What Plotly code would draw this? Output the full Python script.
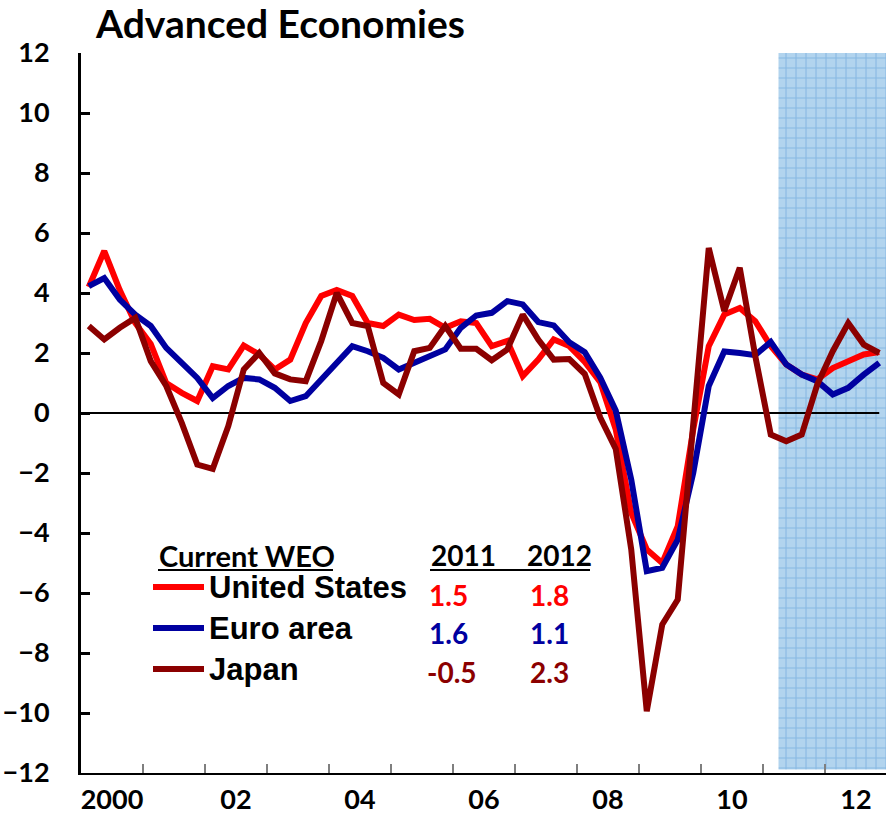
import plotly.graph_objects as go

# ---------------- data (quarterly, 2000Q1 .. 2012Q4, % annualized) ----------------
quarters = [f"{y}Q{q}" for y in range(2000, 2013) for q in range(1, 5)]

united_states = [4.2, 5.4, 4.1, 3.0, 2.3, 1.0, 0.67, 0.4,
                 1.56, 1.45, 2.25, 1.95, 1.45, 1.78, 3.0, 3.9,
                 4.1, 3.9, 3.0, 2.9, 3.28, 3.1, 3.14, 2.84,
                 3.06, 3.0, 2.23, 2.4, 1.23, 1.78, 2.45, 2.23,
                 1.7, 1.03, -0.55, -3.33, -4.55, -5.0, -3.77, -0.55,
                 2.23, 3.28, 3.5, 3.06, 2.23, 1.62, 1.28, 1.12,
                 1.5, 1.73, 1.95, 2.03]

euro_area = [4.23, 4.5, 3.78, 3.28, 2.9, 2.17, 1.67, 1.17,
             0.5, 0.9, 1.17, 1.12, 0.84, 0.4, 0.56, 1.12,
             1.67, 2.23, 2.06, 1.84, 1.45, 1.67, 1.9, 2.12,
             2.84, 3.25, 3.34, 3.73, 3.62, 3.03, 2.92, 2.36,
             2.03, 1.18, 0.08, -2.22, -5.27, -5.16, -4.22, -2.0,
             0.9, 2.05, 2.0, 1.93, 2.37, 1.62, 1.28, 1.06,
             0.62, 0.84, 1.28, 1.67]

japan = [2.9, 2.45, 2.84, 3.17, 1.73, 0.9, -0.33, -1.72,
         -1.86, -0.44, 1.45, 2.0, 1.32, 1.12, 1.06, 2.4,
         4.0, 3.0, 2.9, 1.0, 0.62, 2.06, 2.17, 2.9,
         2.14, 2.14, 1.76, 2.12, 3.28, 2.45, 1.78, 1.8,
         1.3, -0.15, -1.2, -4.55, -9.94, -7.05, -6.22, -0.2,
         5.5, 3.4, 4.84, 1.9, -0.72, -0.94, -0.72, 0.95,
         2.06, 3.0, 2.28, 2.0]

projection_start = "2011Q2"

year_tick_labels = ["2000", "02", "04", "06", "08", "10", "12"]
year_tick_years = [2000, 2002, 2004, 2006, 2008, 2010, 2012]
y_ticks = [-12, -10, -8, -6, -4, -2, 0, 2, 4, 6, 8, 10, 12]

legend_names = ["United States", "Euro area", "Japan"]
weo_2011 = ["1.5", "1.6", "-0.5"]
weo_2012 = ["1.8", "1.1", "2.3"]

# ---------------- style ----------------
RED = "#FF0000"
BLUE = "#0000A0"
MAROON = "#8B0000"
colors = [RED, BLUE, MAROON]

W, H = 886, 814
L, R, T, B = 81, 0, 53, 41
pw, ph = W - L - R, H - T - B
q_px = 15.5
x_lo = -0.5
x_hi = x_lo + pw / q_px

def px(x):
    return (x - L) / pw

def py(y):
    return (H - B - y) / ph

CAL = "Lato"
ARI = "Liberation Sans"

xi = list(range(len(quarters)))
first_year = int(quarters[0][:4])
label_pos = [(yr - first_year) * 4 + 1.5 for yr in year_tick_years]
boundaries = [k * 4 - 0.5 for k in range(1, len(quarters) // 4)]
proj_x = quarters.index(projection_start) - 0.5

fig = go.Figure()

# projection shading
fig.add_trace(go.Scatter(
    x=[proj_x, x_hi, x_hi, proj_x, proj_x],
    y=[-11.88, -11.88, 12.1, 12.1, -11.88],
    mode="lines", fill="toself", line=dict(width=0),
    fillcolor="#B2D4EE",
    fillpattern=dict(shape="+", bgcolor="#B2D4EE", fgcolor="#5B9BD5",
                     size=10, solidity=0.2),
    hoverinfo="skip", showlegend=False))

# zero line
fig.add_trace(go.Scatter(x=[x_lo, xi[-1]], y=[0, 0], mode="lines",
                         line=dict(color="black", width=2),
                         hoverinfo="skip", showlegend=False))

for name, vals, col in zip(legend_names, [united_states, euro_area, japan], colors):
    fig.add_trace(go.Scatter(x=xi, y=vals, mode="lines", name=name,
                             line=dict(color=col, width=6),
                             showlegend=False))

annotations = []
shapes = []

# title
annotations.append(dict(text="<b>Advanced Economies</b>", xref="paper", yref="paper",
                         x=px(93), y=py(23), xanchor="left", yanchor="middle",
                         showarrow=False, font=dict(family=CAL, size=39, color="black")))

# legend header
annotations.append(dict(text="<b>Current WEO</b>", xref="paper", yref="paper",
                         x=px(157), y=py(555), xanchor="left", yanchor="middle",
                         showarrow=False, font=dict(family=CAL, size=29, color="black")))
yr_font = dict(family=CAL, size=28, color="black")
annotations.append(dict(text="<b>2011</b>", xref="paper", yref="paper",
                         x=px(429), y=py(555), xanchor="left", yanchor="middle",
                         showarrow=False, font=yr_font))
annotations.append(dict(text="<b>2012</b>", xref="paper", yref="paper",
                         x=px(525), y=py(555), xanchor="left", yanchor="middle",
                         showarrow=False, font=yr_font))
for x_a, x_b in [(158, 333), (430, 590)]:
    shapes.append(dict(type="line", xref="paper", yref="paper",
                       x0=px(x_a), x1=px(x_b), y0=py(570), y1=py(570),
                       line=dict(color="black", width=2)))

row_y = [587, 628, 669]
val_y = [595, 633, 672]
for k in range(3):
    shapes.append(dict(type="line", xref="paper", yref="paper",
                       x0=px(153), x1=px(204), y0=py(row_y[k]), y1=py(row_y[k]),
                       line=dict(color=colors[k], width=6)))
    annotations.append(dict(text=f"<b>{legend_names[k]}</b>", xref="paper", yref="paper",
                             x=px(207), y=py(row_y[k]), xanchor="left", yanchor="middle",
                             showarrow=False, font=dict(family=ARI, size=31, color="black")))
    annotations.append(dict(text=f"<b>{weo_2011[k]}</b>", xref="paper", yref="paper",
                             x=px(479 if weo_2011[k].startswith("-") else 470), y=py(val_y[k]),
                             xanchor="right", yanchor="middle",
                             showarrow=False, font=dict(family=CAL, size=28, color=colors[k])))
    annotations.append(dict(text=f"<b>{weo_2012[k]}</b>", xref="paper", yref="paper",
                             x=px(571), y=py(val_y[k]), xanchor="right", yanchor="middle",
                             showarrow=False, font=dict(family=CAL, size=28, color=colors[k])))

fig.update_layout(
    width=W, height=H,
    margin=dict(l=L, r=R, t=T, b=B, pad=0),
    paper_bgcolor="white", plot_bgcolor="white",
    showlegend=False,
    annotations=annotations, shapes=shapes,
    xaxis=dict(range=[x_lo, x_hi], showgrid=False, zeroline=False,
               showline=True, linecolor="black", linewidth=2,
               tickmode="array", tickvals=label_pos, ticktext=year_tick_labels,
               ticks="", tickfont=dict(family=CAL, size=27, color="black", weight="bold"),
               ticklabelstandoff=2,
               minor=dict(tickmode="array", tickvals=boundaries, ticks="inside",
                          ticklen=9, tickwidth=1.5, tickcolor="#7F7F7F", showgrid=False)),
    yaxis=dict(range=[-12, 12], showgrid=False, zeroline=False,
               showline=True, linecolor="black", linewidth=3,
               tickmode="array", tickvals=y_ticks,
               ticks="inside", ticklen=9, tickwidth=3, tickcolor="black",
               tickfont=dict(family=CAL, size=27, color="black", weight="bold"),
               ticklabelstandoff=23),
)

fig.write_html("out.html", config={"displayModeBar": False},
               post_script="document.body.style.margin='0';document.body.style.overflow='hidden';")
